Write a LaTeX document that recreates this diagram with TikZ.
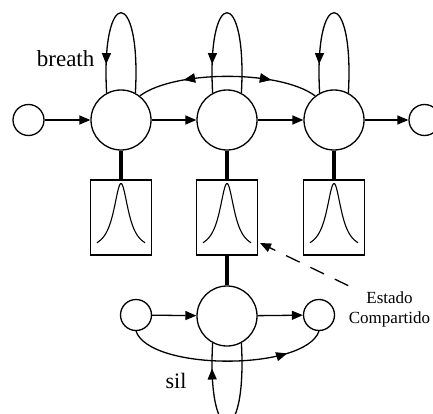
\documentclass[tikz,border=0pt]{standalone}
\usepackage{fontspec}
\setmainfont{Liberation Serif}
\usetikzlibrary{arrows.meta,decorations.markings}
\begin{document}
\begin{tikzpicture}[x=1pt,y=-1pt,line width=1.3pt,
  st/.style={circle,draw,minimum size=60pt,inner sep=0pt},
  sm/.style={circle,draw,minimum size=31pt,inner sep=0pt},
  gbox/.style={rectangle,draw,minimum width=61pt,minimum height=75pt,inner sep=0pt},
  tipd/.style={-{Triangle[length=11pt,width=9pt]}},
  heavy/.style={line width=3.2pt},
  markat/.style={postaction={decorate},decoration={markings,mark=at position #1 with {\arrow{Triangle[length=11pt,width=9pt]}}}},
  markrev/.style={postaction={decorate},decoration={markings,mark=at position #1 with {\arrowreversed{Triangle[length=11pt,width=9pt]}}}},
  gauss/.pic={\draw[line width=1.1pt] plot[domain=-24:24,samples=80,smooth] (\x,{33.5-67.5/(1+(\x/9)*(\x/9))});}
]
\useasboundingbox (0,0) rectangle (433,414);
% top row
\node[sm] (sL) at (28.5,120) {};
\node[st] (c1) at (121,120) {};
\node[st] (c2) at (227,120) {};
\node[st] (c3) at (334,120) {};
\node[sm] (sR) at (424.5,120) {};
\draw[tipd] (sL) -- (c1);
\draw[tipd] (c1) -- (c2);
\draw[tipd] (c2) -- (c3);
\draw[tipd] (c3) -- (sR);
% self loops
\foreach \n in {c1,c2,c3}{
  \draw[markat=0.83] (\n.62) .. controls +(6,-107) and +(-6,-107) .. (\n.118);
}
% skip arc
\draw[markrev=0.26,markat=0.74] (c1.52) .. controls +(35,-26) and +(-35,-26) .. (c3.128);
% boxes
\node[gbox] (b1) at (121,217.5) {};
\node[gbox] (b2) at (227,217.5) {};
\node[gbox] (b3) at (334,217.5) {};
\foreach \b in {b1,b2,b3}{ \pic at (\b.center) {gauss}; }
\draw[heavy] (c1) -- (b1);
\draw[heavy] (c2) -- (b2);
\draw[heavy] (c3) -- (b3);
% lower model
\node[st] (cs) at (227,316) {};
\node[sm] (l2) at (136,315) {};
\node[sm] (r2) at (319,315) {};
\draw[heavy] (b2) -- (cs);
\draw[tipd] (l2) -- (cs);
\draw[tipd] (cs) -- (r2);
\draw[markat=0.8] (l2.south) .. controls +(14,40) and +(-14,40) .. (r2.south);
\draw[markat=0.85] (cs.-62) .. controls +(6,107) and +(-6,107) .. (cs.-118);
% labels
\node[font=\fontsize{23}{26}\selectfont,anchor=base east,inner sep=0pt] (br) at (95,66.5) {breath};
\node[font=\fontsize{22}{26}\selectfont,anchor=base,inner sep=0pt] (sil) at (176,388) {sil};
\node[font=\fontsize{17}{20}\selectfont,align=center,inner sep=0pt] (lbl) at (389.5,309) {Estado\\Compartido};
\coordinate (dt) at (260,243);
\draw[tipd,dash pattern=on 15pt off 12pt] ([yshift=5pt]lbl.north west) -- (dt);
\end{tikzpicture}
\end{document}
